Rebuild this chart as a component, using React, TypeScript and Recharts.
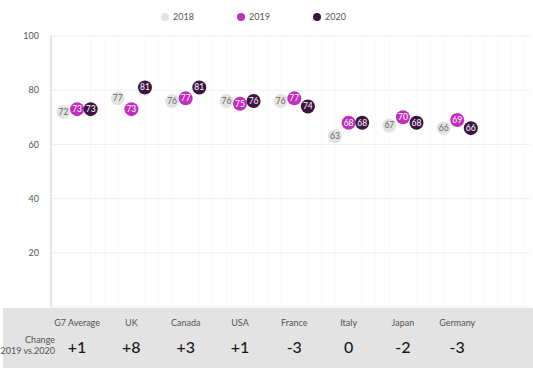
import { ScatterChart, Scatter, XAxis, YAxis, CartesianGrid, Legend } from "recharts";

const countries = ["G7 Average", "UK", "Canada", "USA", "France", "Italy", "Japan", "Germany"];
const scores2018 = [72, 77, 76, 76, 76, 63, 67, 66];
const scores2019 = [73, 73, 77, 75, 77, 68, 70, 69];
const scores2020 = [73, 81, 81, 76, 74, 68, 68, 66];
const changes = ["+1", "+8", "+3", "+1", "-3", "0", "-2", "-3"];
const yTicks = [20, 40, 60, 80, 100];

const FONT = "Lato, 'DejaVu Sans', sans-serif";

const series = [
  { name: "2018", values: scores2018, offset: -0.25, fill: "#e3e3e3", text: "#666666" },
  { name: "2019", values: scores2019, offset: 0, fill: "#c22fbe", text: "#ffffff" },
  { name: "2020", values: scores2020, offset: 0.25, fill: "#3d1441", text: "#ffffff" },
];

const toPoints = (values: number[], offset: number) =>
  values.map((v, i) => ({ x: i + offset, y: v, country: countries[i] }));

const makeDot = (fill: string, text: string) => (props: any) => {
  const { cx, cy, payload } = props;
  return (
    <g>
      <circle cx={cx} cy={cy} r={7} fill={fill} />
      <text
        x={cx}
        y={cy}
        dy="0.35em"
        textAnchor="middle"
        fontSize={8.5}
        fontFamily={FONT}
        fill={text}
      >
        {payload.y}
      </text>
    </g>
  );
};

const CountryTick = (props: any) => {
  const { x, y, payload, index } = props;
  const i = Math.round(payload.value);
  return (
    <g>
      {index === 0 && (
        <g fontFamily={FONT} fill="#555555" fontSize={9} textAnchor="end">
          <text x={55} y={y + 28}>Change</text>
          <text x={55} y={y + 39}>2019 vs.2020</text>
        </g>
      )}
      <text x={x} y={y + 11} textAnchor="middle" fontSize={9} fontFamily={FONT} fill="#555555">
        {countries[i]}
      </text>
      <text x={x} y={y + 38} textAnchor="middle" fontSize={16} fontWeight={500} fontFamily={FONT} fill="#1a1a1a">
        {changes[i]}
      </text>
    </g>
  );
};

const LegendContent = () => (
  <div style={{ display: "flex", justifyContent: "flex-start", paddingLeft: 161, fontFamily: FONT, fontSize: 9, color: "#555" }}>
    {series.map((s) => (
      <div key={s.name} style={{ display: "flex", alignItems: "center", width: 76 }}>
        <span style={{ width: 8, height: 8, borderRadius: 4, background: s.fill, marginRight: 4, display: "inline-block" }} />
        {s.name}
      </div>
    ))}
  </div>
);

const App = () => {
  return (
    <div style={{ position: "absolute", left: 0, top: 0, width: 533, height: 368, background: "#fff" }}>
      <div style={{ position: "absolute", left: 3, top: 308, width: 530, height: 60, background: "#e3e3e3" }} />
      <div style={{ position: "absolute", left: 0, top: 0 }}>
        <ScatterChart width={533} height={368} margin={{ top: 25, right: 3, bottom: 0, left: 0 }}>
          <CartesianGrid
            horizontal={false}
            stroke="#f9f9f9"
            verticalValues={[0.25, 0.5, 0.75, 1.25, 1.5, 1.75, 2.25, 2.5, 2.75, 3.25, 3.5, 3.75, 4.25, 4.5, 4.75, 5.25, 5.5, 5.75, 6.25, 6.5, 6.75, 7.25, 7.5, 7.75, 8, 8.25]}
          />
          <CartesianGrid vertical={false} stroke="#efefef" />
          <XAxis
            type="number"
            dataKey="x"
            domain={[-0.48, 8.34]}
            ticks={[0, 1, 2, 3, 4, 5, 6, 7]}
            height={61}
            axisLine={false}
            tickLine={false}
            tick={<CountryTick />}
            interval={0}
          />
          <YAxis
            type="number"
            dataKey="y"
            domain={[0, 100]}
            ticks={yTicks}
            width={51}
            axisLine={{ stroke: "#cccccc" }}
            tickLine={false}
            tickMargin={6}
            tick={{ fontSize: 9, fill: "#555555", fontFamily: FONT }}
          />
          <Legend
            verticalAlign="top"
            content={<LegendContent />}
            wrapperStyle={{ top: 11, left: 0, width: 533 }}
          />
          {series.map((s) => (
            <Scatter
              key={s.name}
              name={s.name}
              data={toPoints(s.values, s.offset)}
              fill={s.fill}
              shape={makeDot(s.fill, s.text)}
              isAnimationActive={false}
            />
          ))}
        </ScatterChart>
      </div>
    </div>
  );
};

export default App;
